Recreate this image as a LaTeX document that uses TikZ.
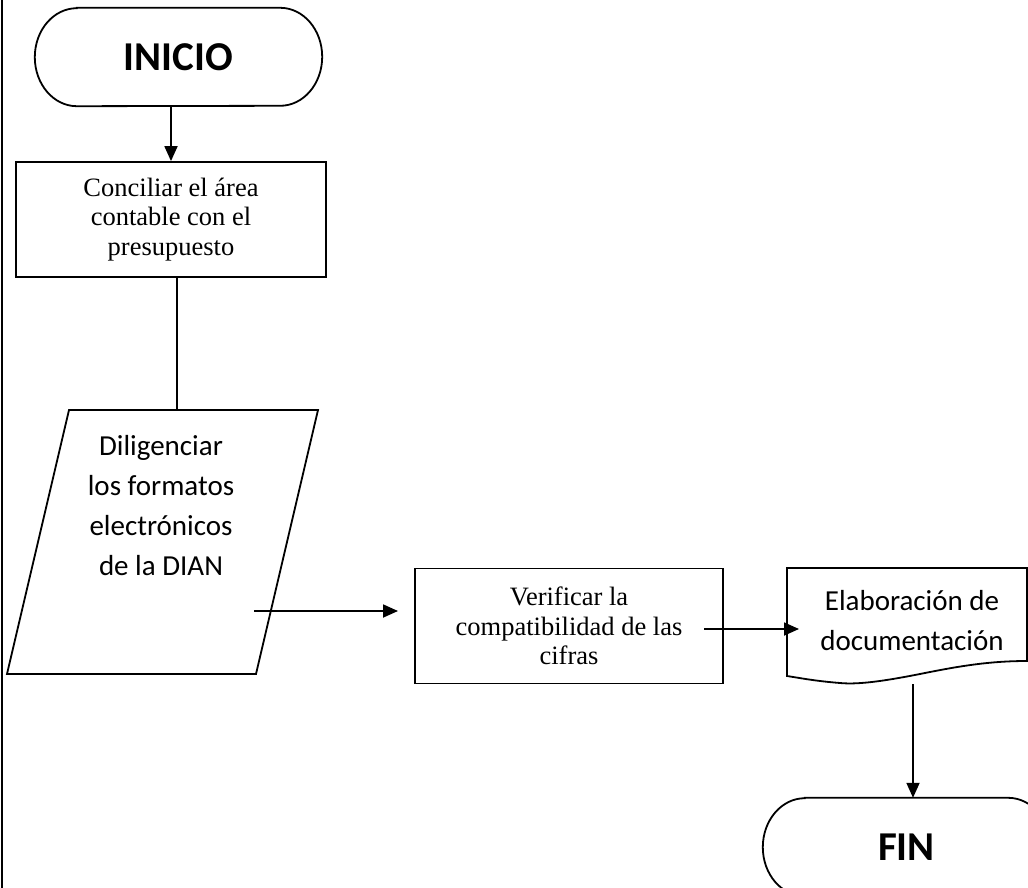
\documentclass[tikz,border=0pt]{standalone}
\usepackage{fontspec}
\setmainfont{Liberation Serif}
\newfontfamily\calib{Carlito}
\usetikzlibrary{arrows.meta}
\begin{document}
\begin{tikzpicture}[x=1pt,y=1pt,
  lw/.style={line width=1.8pt},
  arr/.style={lw,-{Triangle[length=15pt,width=13pt]}},
  termbox/.style={minimum width=287pt,minimum height=98pt,inner sep=0pt,
    font=\calib\bfseries\fontsize{41}{48}\selectfont},
  procbox/.style={draw,lw,inner sep=0pt,minimum height=115pt,align=center,
    font=\fontsize{26.5}{29.5}\selectfont},
  paratext/.style={align=center,inner sep=0pt,font=\calib\fontsize{29}{40}\selectfont}
]
\clip (0,0) rectangle (1028,-888);
\fill[white] (0,0) rectangle (1028,-888);
% left border
\draw[lw] (2,0) -- (2,-888);

% INICIO
\node[termbox] (inicio) at (178.5,-57) {INICIO};
\draw[lw] ([xshift=42pt]inicio.north west) -- ([xshift=-42pt]inicio.north east)
  arc[start angle=90,end angle=-90,x radius=42pt,y radius=49pt]
  -- ([xshift=42pt]inicio.south west)
  arc[start angle=270,end angle=90,x radius=42pt,y radius=49pt] -- cycle;

% Box 1
\node[procbox,minimum width=310pt] (conc) at (171,-219.5) {Conciliar el área\\contable con el\\presupuesto};

% Parallelogram
\coordinate (paraTL) at (69,-410);
\coordinate (paraTR) at (318,-410);
\coordinate (paraBR) at (256,-674);
\coordinate (paraBL) at (7,-674);
\draw[lw,line join=miter] (paraTL) -- (paraTR) -- (paraBR) -- (paraBL) -- cycle;
\node[paratext] (para) at (161,-506) {Diligenciar\\los formatos\\electrónicos\\de la DIAN};

% Box 2
\node[procbox,minimum width=308pt] (verif) at (569,-626) {Verificar la\\compatibilidad de las\\cifras};

% Document
\coordinate (docTL) at (787,-568);
\coordinate (docTR) at (1027,-568);
\draw[lw] (docTL) -- (docTR) -- (1027,-661)
  .. controls (990,-661) and (960,-666) .. (925,-673)
  .. controls (890,-680) and (860,-685) .. (840,-683)
  .. controls (815,-681) and (800,-678) .. (787,-676) -- cycle;
\node[paratext] (doc) at (912,-621) {Elaboración de\\documentación};
\coordinate (docB) at (913,-684);

% FIN
\node[termbox] (fin) at (906.5,-847) {FIN};
\draw[lw] ([xshift=42pt]fin.north west) -- ([xshift=-42pt]fin.north east)
  arc[start angle=90,end angle=-90,x radius=42pt,y radius=49pt]
  -- ([xshift=42pt]fin.south west)
  arc[start angle=270,end angle=90,x radius=42pt,y radius=49pt] -- cycle;

% connectors
\draw[arr] (inicio.south -| conc.north) -- (conc.north);
\coordinate (c1) at ([xshift=6pt]conc.south);
\draw[lw] (c1) -- (c1 |- paraTL);
\coordinate (a1s) at (254,-611);
\coordinate (a1e) at (398,-611);
\draw[arr] (a1s) -- (a1e);
\coordinate (a2s) at (704,-629);
\coordinate (a2e) at (799,-629);
\draw[arr] (a2s) -- (a2e);
\draw[arr] (docB) -- (docB |- fin.north);
\end{tikzpicture}
\end{document}
